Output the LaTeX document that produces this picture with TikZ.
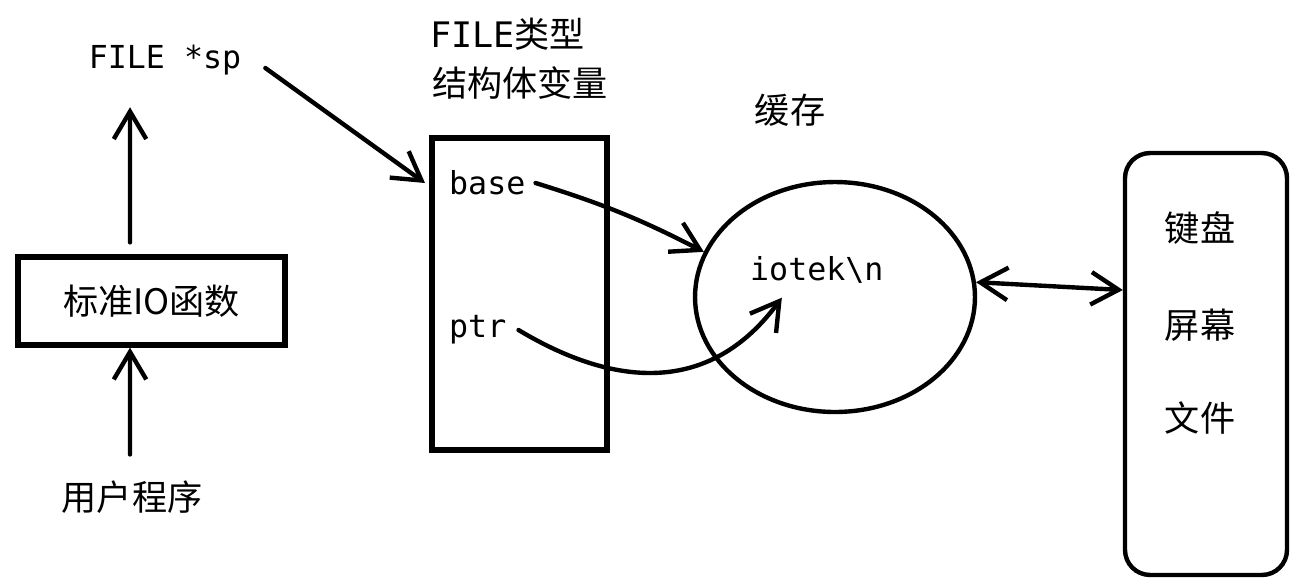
\documentclass[tikz,border=0pt]{standalone}
\usepackage{fontspec}
\usepackage{tikz}
\usetikzlibrary{arrows.meta}
\usetikzlibrary{shapes.geometric}
\setmonofont{DejaVu Sans Mono}
\newfontfamily\cjk{Noto Sans CJK SC}

\begin{document}
\begin{tikzpicture}[x=0.02cm, y=-0.02cm, line width=2.5pt, line cap=round,
		arr/.style={-{Straight Barb[length=5.5mm, width=6.5mm, line width=2.5pt]}},
		darr/.style={{Straight Barb[length=5.5mm, width=6.5mm, line width=2.5pt]}-{Straight Barb[length=5.5mm, width=6.5mm, line width=2.5pt]}},
		code/.style={font=\fontsize{18}{20}\selectfont\ttfamily, inner sep=0pt},
		hanzi/.style={font=\fontsize{20}{24}\selectfont\cjk, inner sep=0pt},
		plainbox/.style={draw, line width=3pt, inner sep=0pt}]
			
			\useasboundingbox (0, 0) rectangle (1308, 586);

			% left column
			\node[code] (sp) at (165, 60) {FILE *sp};
			\node[plainbox, hanzi, minimum width=5.34cm, minimum height=1.76cm] (std) at (151.5, 301) {标准IO函数};
			\node[hanzi] (user) at (132, 497) {用户程序};

			\draw[arr] ([xshift=-0.43cm, yshift=0.24cm]std.north) -- ([xshift=-0.7cm, yshift=-0.6cm]sp.south);
			\draw[arr] ([xshift=-0.04cm, yshift=0.48cm]user.north) -- ([xshift=-0.43cm]std.south);

			% FILE structure
			\node[anchor=west, font=\fontsize{20}{24}\selectfont, inner sep=0pt] (title1) at (428, 34) {\ttfamily FILE\cjk 类型};
			\node[hanzi, anchor=west] (title2) at (430, 83) {结构体变量};
			\node[plainbox, minimum width=3.5cm, minimum height=6.24cm] (file) at (519.5, 294) {};
			\node[code, anchor=west] (base) at (447, 183) {base};
			\node[code, anchor=west] (ptr) at (447, 330) {ptr};

			\draw[arr] ([xshift=0.44cm, yshift=-0.16cm]sp.east) -- ([xshift=-0.44cm]base.west);

			% buffer
			\node[hanzi] (buflabel) at (790, 110) {缓存};
			\node[draw, ellipse, minimum width=5.6cm, minimum height=4.6cm] (buf) at (835, 297) {};
			\node[code, anchor=west] (iotek) at (748, 270) {iotek\textbackslash n};

			\draw[arr] ([xshift=0.16cm]base.east) to[bend left=5] (buf.161);
			\draw[arr] ([xshift=0.2cm]ptr.east) .. controls +(100, 60) and +(-70, 95) .. ([xshift=-0.7cm, yshift=-0.24cm]iotek.south);

			% devices
			\node[draw, rounded corners=0.5cm, minimum width=3.24cm, minimum height=8.44cm] (dev) at (1206, 364) {};
			\node[hanzi] (kbd) at (1200, 228) {键盘};
			\node[hanzi] (scr) at (1200, 325) {屏幕};
			\node[hanzi] (fil) at (1200, 418) {文件};

			\draw[darr] (buf.6) -- ([yshift=1.48cm]dev.west);
		\end{tikzpicture}
\end{document}
